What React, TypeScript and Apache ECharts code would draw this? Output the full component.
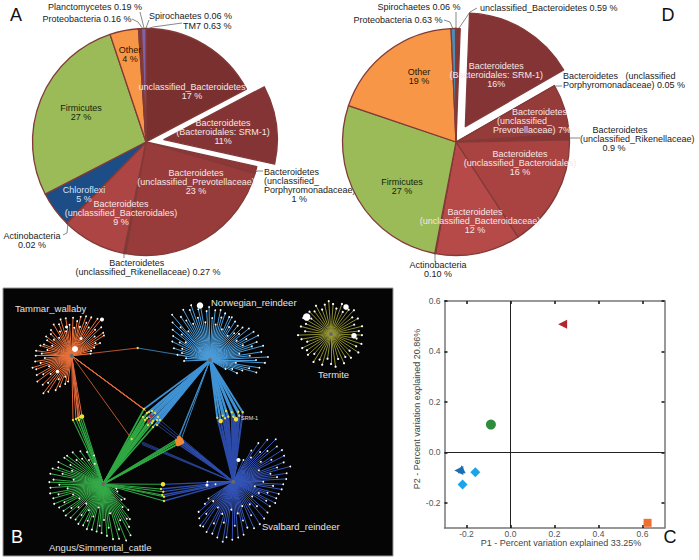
import React, { useEffect, useRef } from "react";
import * as echarts from "echarts";

const FONT = "'Liberation Sans', Arial, sans-serif";

// ---- Panel A data
const aNames = ["unclassified_Bacteroidetes", "Bacteroidales: SRM-1", "unclassified_Porphyromonadaceae", "unclassified_Prevotellaceae", "unclassified_Rikenellaceae", "unclassified_Bacteroidales", "Actinobacteria", "Chloroflexi", "Firmicutes", "Other", "Proteobacteria", "Planctomycetes", "Spirochaetes", "TM7"];
const aValues = [17, 11, 1, 23, 0.27, 9, 0.02, 5, 27, 4, 0.16, 0.19, 0.06, 0.63];
const aLabels = [
  "unclassified_Bacteroidetes\n17 %",
  "Bacteroidetes\n(Bacteroidales: SRM-1)\n11%",
  "Bacteroidetes\n(unclassified_\nPorphyromonadaceae)\n           1 %",
  "Bacteroidetes\n(unclassified_Prevotellaceae)\n23 %",
  "Bacteroidetes         \n(unclassified_Rikenellaceae) 0.27 %",
  "Bacteroidetes\n(unclassified_Bacteroidales)\n9 %",
  "Actinobacteria\n0.02 %",
  "Chloroflexi\n5 %",
  "Firmicutes\n27 %",
  "Other\n4 %",
  "Proteobacteria 0.16 %",
  "Planctomycetes 0.19 %",
  "Spirochaetes 0.06 %",
  "TM7 0.63 %",
];
const aColors = ["#7b3030", "#843434", "#8d3736", "#973c3b", "#8a3433", "#ad4544", "#8064a2", "#1c4d86", "#9bbb59", "#f79646", "#4aacc6", "#c0504d", "#4f81bd", "#7f63a6"];
const aTextColors = ["#f6e6e6", "#f6e6e6", "#222", "#f6e6e6", "#222", "#f6e6e6", "#222", "#d5e3f5", "#16240a", "#2a1500", "#222", "#222", "#222", "#222"];
const aPlace: [number, number, string][] = [
  [192, 91, "center"], [233, 132, "center"], [264, 185, "left"], [196, 182, "center"], [148, 267, "center"], [121, 213, "center"], [32, 240, "center"], [84, 194, "center"], [81, 112, "center"], [130, 54, "center"], [87, 19, "center"], [95, 7, "center"], [149, 16, "left"], [183, 26, "left"],
];

// ---- Panel D data
const dNames = ["unclassified_Bacteroidetes", "Bacteroidales: SRM-1", "unclassified_Porphyromonadaceae", "unclassified_Prevotellaceae", "unclassified_Rikenellaceae", "unclassified_Bacteroidales", "unclassified_Bacteroidaceae", "Actinobacteria", "Firmicutes", "Other", "Proteobacteria", "Spirochaetes"];
const dValues = [0.59, 16, 0.05, 7, 0.9, 16, 12, 0.1, 27, 19, 0.63, 0.06];
const dLabels = [
  "unclassified_Bacteroidetes 0.59 %",
  "Bacteroidetes\n(Bacteroidales: SRM-1)\n16%",
  "Bacteroidetes   (unclassified\nPorphyromonadaceae) 0.05 %",
  "      Bacteroidetes\n(unclassified_      \nPrevotellaceae) 7%",
  "     Bacteroidetes\n(unclassified_Rikenellaceae)\n         0.9 %",
  "Bacteroidetes\n(unclassified_Bacteroidales)\n16 %",
  "Bacteroidetes\n    (unclassified_Bacteroidaceae)\n12 %",
  "Actinobacteria\n0.10 %",
  "Firmicutes\n27 %",
  "Other\n19 %",
  "Proteobacteria 0.63 %",
  "Spirochaetes 0.06 %",
];
const dColors = ["#843434", "#843434", "#8d3736", "#953b3a", "#8a3433", "#a84342", "#b54a49", "#8a3433", "#9bbb59", "#f79646", "#4a8fb8", "#9bbfd0"];
const dTextColors = ["#222", "#f6e6e6", "#222", "#f6e6e6", "#222", "#f6e6e6", "#f6e6e6", "#222", "#16240a", "#2a1500", "#222", "#222"];
const dPlace: [number, number, string][] = [
  [480, 8, "left"], [515, 64, "center"], [563, 80, "left"], [532, 121, "center"], [580, 139, "left"], [520, 163, "center"], [475, 221, "center"], [438, 269, "center"], [402, 186, "center"], [419, 76, "center"], [398, 20, "center"], [419, 7, "center"],
];

const leaders: number[][][] = [
  [[132, 19], [138, 22], [143, 29]],
  [[140, 12], [144, 28]],
  [[149, 20], [146, 28]],
  [[182, 23], [153, 27], [147, 29]],
  [[263, 171], [257, 171], [255, 173]],
  [[63, 235], [67, 233], [68, 223]],
  [[124, 252], [124, 258]],
  [[477, 8], [470, 12], [459, 28]],
  [[444, 20], [450, 22], [453, 29]],
  [[456, 12], [456, 28]],
  [[562, 86], [556, 86]],
  [[580, 138], [570, 138]],
  [[435, 253], [435, 262]],
];

// ---- Panel B data: hubs and leaves ([bearing in degrees, distance])
const hubOrange = [71.7, 355.7];
const hubBlue = [210, 360];
const hubGreen = [103.3, 484];
const hubNavy = [233.3, 481.7];
const hubOlive = [331, 334];

const leavesOrange = [[2,38],[5,28],[9,35],[13,40],[16,30],[20,42],[24,36],[27,43],[31,33],[35,45],[39,47],[42,35],[46,41],[50,30],[54,39],[58,38],[62,27],[66,31],[70,24],[76,20],[84,19],[188,26],[193,29],[197,22],[201,33],[205,38],[209,27],[213,43],[217,47],[221,36],[225,41],[229,28],[233,43],[237,34],[241,40],[245,25],[249,38],[253,41],[257,32],[261,37],[265,27],[270,36],[274,30],[278,36],[283,25],[288,33],[292,30],[297,22],[302,29],[307,32],[312,24],[316,30],[321,33],[325,22],[330,36],[334,27],[338,34],[343,38],[347,25],[351,38],[356,31]];
const leavesBlue = [[268,26],[274,24],[279,33],[284,29],[288,38],[292,30],[296,42],[300,35],[303,44],[306,30],[309,48],[312,38],[315,53],[318,44],[320,59],[323,36],[326,52],[329,46],[332,57],[335,40],[338,54],[341,58],[344,44],[347,52],[350,57],[353,38],[356,49],[359,53],[3,42],[6,50],[9,36],[12,51],[15,44],[18,49],[21,33],[24,47],[27,48],[30,38],[33,46],[36,30],[39,44],[42,36],[45,46],[48,39],[51,50],[54,33],[57,52],[60,42],[63,54],[66,36],[69,50],[72,44],[75,55],[78,30],[81,52],[84,40],[87,58],[90,46],[93,55],[96,26],[99,50],[102,40],[105,48],[108,34],[112,24],[116,30],[120,18]];
const leavesGreen = [[342,30],[337,22],[333,36],[329,28],[325,40],[320,33],[316,44],[312,36],[308,46],[304,47],[300,38],[296,50],[293,34],[290,48],[287,53],[284,42],[281,54],[278,30],[275,50],[272,54],[269,44],[266,53],[263,36],[260,54],[257,46],[254,52],[251,32],[248,53],[245,43],[242,50],[239,28],[236,48],[233,40],[230,49],[227,34],[224,47],[221,26],[218,45],[215,38],[212,47],[209,30],[206,46],[203,40],[200,48],[197,34],[194,47],[191,24],[188,48],[185,42],[182,49],[179,36],[176,52],[173,44],[170,56],[167,30],[164,57],[161,48],[158,61],[155,40],[152,58],[149,50],[146,42],[143,44],[140,30],[136,36],[131,24],[125,26],[118,16],[110,14]];
const leavesNavy = [[13,22],[25,24],[30,36],[33,46],[36,30],[39,54],[42,40],[45,60],[48,46],[51,56],[54,34],[57,58],[60,44],[63,57],[66,28],[69,54],[72,46],[75,59],[78,38],[81,54],[84,44],[87,53],[90,30],[93,50],[96,40],[99,49],[102,22],[105,47],[108,36],[111,46],[114,28],[117,47],[120,38],[124,44],[128,24],[132,46],[136,34],[140,48],[144,28],[148,50],[152,38],[156,51],[160,26],[163,48],[166,40],[169,54],[172,32],[175,56],[178,44],[181,58],[184,28],[187,56],[190,61],[193,42],[196,58],[199,34],[202,56],[205,46],[208,57],[211,30],[214,54],[217,55],[220,42],[223,50],[226,28],[229,46],[232,36],[236,30],[270,26],[262,18]];
const leavesOlive = [[4,30],[12,26],[20,32],[28,25],[36,30],[44,33],[52,27],[60,31],[68,25],[76,32],[84,28],[92,31],[100,26],[108,32],[116,28],[124,33],[132,25],[140,31],[148,27],[156,32],[164,26],[172,33],[180,30],[188,25],[196,32],[204,28],[212,33],[220,26],[228,31],[236,29],[244,32],[252,25],[260,30],[268,33],[276,26],[284,31],[292,27],[300,32],[308,25],[316,31],[324,28],[332,32],[340,26],[348,30],[356,33]];

const sharedCentre = [[144,409],[147,413],[149,412],[152,411],[155,413],[158,417],[160,420],[157,425],[153,427],[148,425],[145,420],[143,417],[150,417],[149,421],[153,421],[147,418],[157,420],[152,423]];
const sharedCentreOrangeEnds = [[143,408.5],[144,409],[145,410],[146,411]];
const sharedCentreGreenEnds = [[144,409],[143,417],[145,420],[147,413],[147,418],[148,425],[149,421],[152,423],[153,427],[146,414],[144,424],[146,427],[141,421],[139,425],[137,429],[135,433]];
const sharedCentreNavyEnds = [[156,424],[158,422],[160,420]];
const sharedCentreRed = [[151,416],[149,421]];
const sharedOrange = [[177,441],[179,438],[181,440],[178,444],[180,443],[182,442]];
const sharedLeft = [[73,420],[76,419],[78,418],[80,417],[82,416.5],[79,420]];
const sharedRight = [[162.7,484.3],[161,489],[163.3,491.7],[162.3,495],[164,496.7],[164,501]];
const sharedSrm = [[217.3,417.7],[220.7,421],[222.7,415.7],[226,411],[228.3,416.7],[231.7,412.3],[233.3,416.7],[236,419.3],[238.3,411.7],[242.7,412.3],[239.3,415.7],[225,418.3]];
const tinyOrangeGreen = [[131.7,439]];
const tinyOrangeBlue = [[137.7,348]];
const tinyNavy = [[141.7,443],[142,444.5],[142.5,442]];
const bigWhites = [[75,349],[102,319.5],[57.5,371.5],[66.5,327],[81,338.5],[200,305.5],[306.7,317],[346,307],[354,335.7],[238.5,460],[207,485]];
const bigWhiteSizes = [6, 4, 3.5, 3, 3, 6.5, 7.5, 5.5, 5.5, 4, 3];
const bigYellows = [[82,416.5],[220.7,421],[236,419.3],[163,484.3]];
const hubs = [hubOrange, hubBlue, hubGreen, hubNavy, hubOlive];

const panelBLabels: [string, number, number, number, string][] = [
  ["Tammar_wallaby", 15, 308, 9.5, "left"],
  ["Norwegian_reindeer", 211, 302, 9.5, "left"],
  ["Termite", 318, 374, 9.5, "left"],
  ["Svalbard_reindeer", 262, 526, 9.5, "left"],
  ["Angus/Simmental_cattle", 49, 547, 9.5, "left"],
  ["SRM-1", 241, 418, 5.5, "left"],
];

// ---- Panel C data
const pcoaRed = [[0.237, 0.508]];
const pcoaGreen = [[-0.089, 0.11]];
const pcoaBlueLeft = [[-0.235, -0.072]];
const pcoaBlueUp = [[-0.222, -0.067]];
const pcoaCyan = [[-0.16, -0.079], [-0.218, -0.128]];
const pcoaOrange = [[0.623, -0.2795]];
const xTicks = [-0.2, 0, 0.2, 0.4, 0.6];
const yTicks = [-0.2, 0, 0.2, 0.4, 0.6];
const panelLetters: [string, number, number, string][] = [["A", 16, 15, "#111"], ["D", 668, 15, "#111"], ["B", 17, 537, "#fff"], ["C", 670, 537, "#111"]];

const polar = (hub: number[], l: number[]) => {
  const r = (l[0] * Math.PI) / 180;
  return [hub[0] + l[1] * Math.sin(r), hub[1] - l[1] * Math.cos(r)];
};

const edgeSeries = (hub: number[], ends: number[][], color: string, width = 1) => ({
  type: "lines",
  coordinateSystem: "cartesian2d",
  xAxisIndex: 0,
  yAxisIndex: 0,
  silent: true,
  z: 2,
  lineStyle: { color, width, opacity: 1, curveness: 0 },
  data: ends.map((e) => ({ coords: [hub, e] })),
});

const dotSeries = (data: number[][], color: string, size: number | number[], z = 4) => ({
  type: "scatter",
  xAxisIndex: 0,
  yAxisIndex: 0,
  silent: true,
  z,
  symbol: "circle",
  symbolSize: Array.isArray(size) ? (_: any, p: any) => (size as number[])[p.dataIndex] : size,
  itemStyle: { color, opacity: 1 },
  data,
});

const pie = (name: string, center: number[], values: number[], names: string[], colors: string[], labels: string[], textColors: string[], place: [number, number, string][], z: number) => ({
  type: "pie",
  name,
  z,
  center,
  radius: 113.5,
  startAngle: 90,
  clockwise: true,
  selectedMode: "single",
  selectedOffset: 18,
  avoidLabelOverlap: false,
  silent: true,
  itemStyle: { borderColor: "#823a38", borderWidth: 1.3 },
  labelLine: { show: false },
  label: {
    show: true,
    position: "inside",
    fontFamily: FONT,
    fontSize: 9,
    lineHeight: 9,
    formatter: (p: any) => labels[p.dataIndex],
  },
  labelLayout: (p: any) => {
    const l = place[p.dataIndex];
    return { x: l[0], y: l[1], align: l[2], verticalAlign: "middle" };
  },
  data: values.map((value, i) => ({
    value,
    name: names[i],
    selected: names[i] === "Bacteroidales: SRM-1",
    itemStyle: { color: colors[i] },
    label: { color: textColors[i] },
  })),
});

const scatterC = (data: number[][], symbol: string, size: number, color: string, rotate = 0, extra: any = {}) => ({
  type: "scatter",
  xAxisIndex: 1,
  yAxisIndex: 1,
  silent: true,
  z: 5,
  symbol,
  symbolSize: size,
  symbolRotate: rotate,
  itemStyle: { color, opacity: 1 },
  data,
  ...extra,
});

const cAxis = (position: string, ticks: number[], min: number, max: number, gridIndex: number, showLabel: boolean, margin = 4, name?: string, nameGap?: number, namePad = 0) => ({
  type: "value",
  gridIndex,
  position,
  min,
  max,
  name,
  nameLocation: "middle",
  nameGap,
  nameTextStyle: { fontFamily: FONT, fontSize: 9, color: "#444", padding: [0, 0, 0, namePad] },
  axisLine: { show: true, onZero: false, lineStyle: { color: "#777", width: 1.5 } },
  axisTick: { show: true, inside: true, length: 3, customValues: ticks, lineStyle: { color: "#111", width: 1.5 } },
  axisLabel: {
    show: showLabel,
    customValues: ticks,
    fontFamily: FONT,
    fontSize: 8.5,
    color: "#555",
    margin,
    formatter: (v: number) => v.toFixed(1),
  },
  splitLine: { show: false },
});

export default function App() {
  const ref = useRef<HTMLDivElement>(null);
  useEffect(() => {
    const chart = echarts.init(ref.current!, undefined, { renderer: "svg" });
    const hiddenAxis = (min: number, max: number, inverse = false) => ({ type: "value", gridIndex: 0, min, max, inverse, show: false, splitLine: { show: false } });
    const option: any = {
      animation: false,
      backgroundColor: "#fff",
      grid: [
        { left: 3, top: 288, width: 390, height: 268, show: true, backgroundColor: "#050505", borderColor: "#999", borderWidth: 1, z: 0 },
        { left: 444.5, top: 301, width: 220, height: 227, show: false },
      ],
      xAxis: [
        hiddenAxis(3, 393),
        cAxis("bottom", xTicks, -0.3, 0.7, 1, true, 1, "P1 - Percent variation explained 33.25%", 8, 13),
        cAxis("top", xTicks, -0.3, 0.7, 1, false),
      ],
      yAxis: [
        hiddenAxis(288, 556, true),
        cAxis("left", yTicks, -0.3, 0.6, 1, true, 4, "P2 - Percent variation explained 20.86%", 3, 11),
        cAxis("right", yTicks, -0.3, 0.6, 1, false),
      ],
      series: [
        pie("A", [146, 142], aValues, aNames, aColors, aLabels, aTextColors, aPlace, 2),
        pie("D", [456, 142], dValues, dNames, dColors, dLabels, dTextColors, dPlace, 3),

        edgeSeries(hubNavy, [...sharedCentreNavyEnds, ...tinyNavy], "#2c4aa8", 0.8),
        edgeSeries(hubNavy, [...sharedOrange, ...sharedRight], "#2c4aa8", 1.3),
        edgeSeries(hubNavy, sharedSrm, "#2c4aa8", 2),
        edgeSeries(hubOrange, sharedCentreOrangeEnds, "#e3673a", 1),
        edgeSeries(hubOrange, [...tinyOrangeGreen, ...tinyOrangeBlue], "#e3673a", 0.8),
        edgeSeries(hubOrange, sharedLeft, "#e3673a", 1),
        edgeSeries(hubBlue, tinyOrangeBlue, "#3f92d4", 0.8),
        edgeSeries(hubBlue, sharedCentre, "#3f92d4", 1.6),
        edgeSeries(hubBlue, sharedOrange.slice(0, 3), "#3f92d4", 0.9),
        edgeSeries(hubBlue, sharedSrm, "#3f92d4", 2),
        edgeSeries(hubGreen, sharedCentreGreenEnds, "#2fa843", 1.7),
        edgeSeries(hubGreen, tinyOrangeGreen, "#2fa843", 1),
        edgeSeries(hubGreen, sharedOrange, "#2fa843", 1.4),
        edgeSeries(hubGreen, [...sharedLeft, ...sharedRight], "#2fa843", 1.1),
        edgeSeries(hubOrange, leavesOrange.map((l) => polar(hubOrange, l)), "#e8703a"),
        edgeSeries(hubBlue, leavesBlue.map((l) => polar(hubBlue, l)), "#4a9bd8"),
        edgeSeries(hubGreen, leavesGreen.map((l) => polar(hubGreen, l)), "#35ab48"),
        edgeSeries(hubNavy, leavesNavy.map((l) => polar(hubNavy, l)), "#3454b8"),
        edgeSeries(hubOlive, leavesOlive.map((l) => polar(hubOlive, l)), "#9a9a35", 0.9),

        dotSeries(leavesOrange.map((l) => polar(hubOrange, l)), "#fff", 1.8),
        dotSeries(leavesBlue.map((l) => polar(hubBlue, l)), "#fff", 1.8),
        dotSeries(leavesGreen.map((l) => polar(hubGreen, l)), "#fff", 1.8),
        dotSeries(leavesNavy.map((l) => polar(hubNavy, l)), "#fff", 1.8),
        dotSeries(leavesOlive.map((l) => polar(hubOlive, l)), "#fff", 2.2),
        dotSeries(bigWhites, "#fff", bigWhiteSizes, 5),
        dotSeries([...sharedCentre, ...sharedLeft, ...sharedRight, ...sharedSrm, ...tinyOrangeGreen, ...tinyOrangeBlue], "#e8dc3c", 2.4, 5),
        dotSeries(bigYellows, "#f2e030", 4.5, 5),
        dotSeries(sharedCentreRed, "#b83038", 3.5, 6),
        dotSeries(sharedOrange, "#f08a30", 4.5, 6),
        dotSeries(hubs, "#6a6a6a", 4, 6),

        scatterC(pcoaRed, "triangle", 9, "#b0282f", 90),
        scatterC(pcoaGreen, "circle", 10, "#2f8c3e", 0, {
          markLine: {
            silent: true,
            symbol: "none",
            label: { show: false },
            lineStyle: { color: "#222", width: 1, type: "solid" },
            data: [{ xAxis: 0 }, { yAxis: 0 }],
          },
        }),
        scatterC(pcoaBlueLeft, "triangle", 9, "#1a6fb0", 90),
        scatterC(pcoaBlueUp, "triangle", 8, "#1a6fb0"),
        scatterC(pcoaCyan, "diamond", 10, "#1aa5ea"),
        scatterC(pcoaOrange, "rect", 8, "#ee6f2f"),
      ],
      graphic: [
        ...leaders.map((points) => ({
          type: "polyline",
          z: 20,
          silent: true,
          shape: { points },
          style: { stroke: "#555", lineWidth: 0.7, fill: "none" },
        })),
        ...panelBLabels.map(([text, x, y, fontSize, textAlign]) => ({
          type: "text",
          x,
          y,
          z: 20,
          silent: true,
          style: { text, fontSize, fontFamily: FONT, fill: "#e4e4e4", textAlign, textVerticalAlign: "middle" },
        })),
        ...panelLetters.map(([text, x, y, fill]) => ({
          type: "text",
          x,
          y,
          z: 20,
          silent: true,
          style: { text, fontSize: 18, fontFamily: FONT, fill, textAlign: "center", textVerticalAlign: "middle" },
        })),
      ],
    };
    chart.setOption(option);
    return () => chart.dispose();
  }, []);
  return <div ref={ref} style={{ position: "absolute", left: 0, top: 0, width: 699, height: 560 }} />;
}
